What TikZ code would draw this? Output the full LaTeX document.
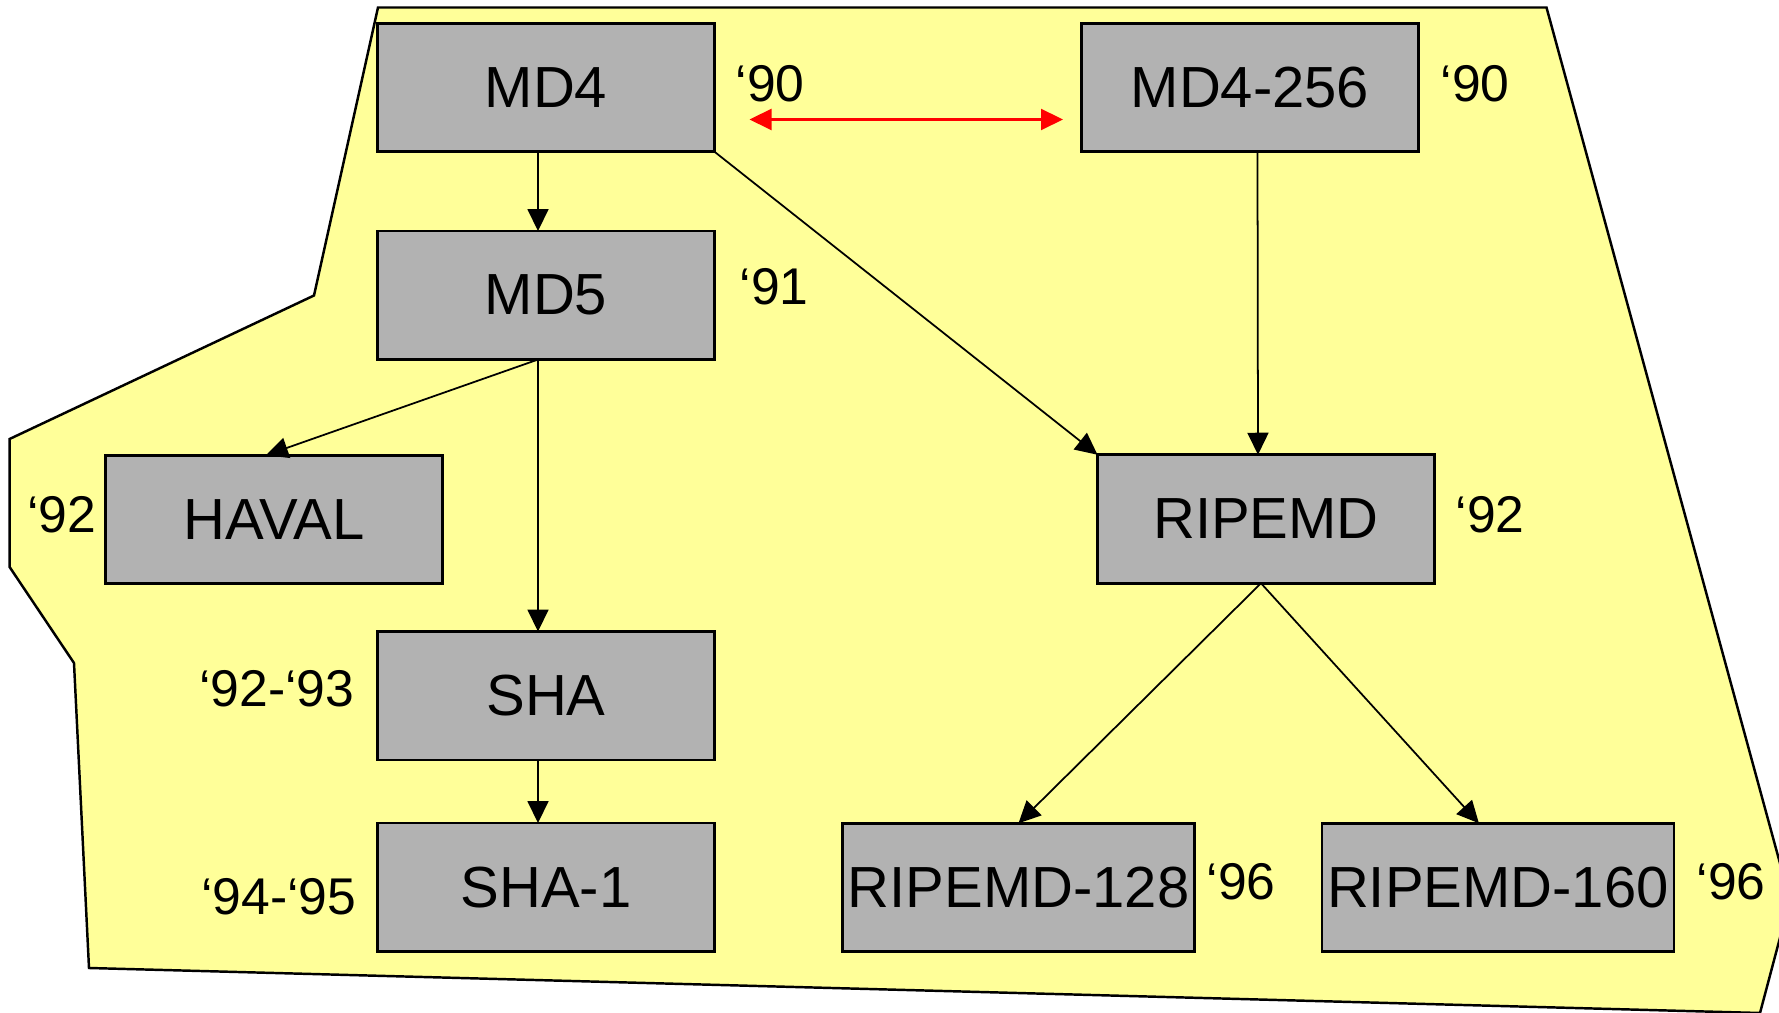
\documentclass[tikz,border=0pt]{standalone}
\usepackage{fontspec}
\setmainfont{Liberation Sans}
\usepackage{tikz}
\usetikzlibrary{arrows.meta,positioning}
\definecolor{cZone}{HTML}{FFFF99}
\definecolor{cBox}{HTML}{B2B2B2}
\definecolor{cRed}{HTML}{FF0000}
\tikzset{
  hbox/.style={draw, line width=0.75pt, fill=cBox, inner sep=0pt, outer sep=0pt,
               minimum width=#1, minimum height=12.85mm, font=\fontsize{16.5}{19}\selectfont},
  hbox/.default=33.7mm,
  harr/.style={-{Triangle[length=2.2mm,width=2.1mm]}, line width=0.5pt},
  hred/.style={{Triangle[length=2.2mm,width=2.1mm]}-{Triangle[length=2.2mm,width=2.1mm]},
               line width=0.6pt, draw=cRed},
  hyr/.style={inner sep=0pt, font=\fontsize{14.7}{17}\selectfont},
  hzone/.style={draw, line width=0.7pt, fill=cZone},
}

\begin{document}
\begin{tikzpicture}[x=0.1mm, y=-0.1mm, node distance=0mm]
\useasboundingbox (0,0) rectangle (1779,1013);
\clip (0,0) rectangle (1779,1013);
\draw[hzone] (378,7.5) -- (1546.5,7.5) -- (1790,900) -- (1760,1013) -- (89,968)
  -- (74,663) -- (9.6,567) -- (9.6,439) -- (314,295.5) -- cycle;

\node[hbox] (md4) at (546,87.5) {MD4};
\node[hbox, below=7.93mm of md4] (md5) {MD5};
\node[hbox, below=27.2mm of md5] (sha) {SHA};
\node[hbox, below=6.3mm of sha] (sha1) {SHA-1};
\node[hbox, right=36.7mm of md4] (md4x) {MD4-256};
\node[hbox] (haval) at (274,519.5) {HAVAL};
\node[hbox] (ripemd) at (1266,519) {RIPEMD};
\node[hbox=35.2mm] (rip128) at (1018.5,887.5) {RIPEMD-128};
\node[hbox=35.2mm, right=12.74mm of rip128] (rip160) {RIPEMD-160};

\node[hyr, anchor=base west] (ymd4) at (735,102) {‘90};
\node[hyr, anchor=base west] (ymd4x) at (1440,102) {‘90};
\node[hyr, anchor=base west] (ymd5) at (739,305) {‘91};
\node[hyr, anchor=base east] (yhaval) at (97,533) {‘92};
\node[hyr, anchor=base west] (yripemd) at (1455,533) {‘92};
\node[hyr, anchor=base east] (ysha) at (355,707) {‘92-‘93};
\node[hyr, anchor=base east] (ysha1) at (357,915) {‘94-‘95};
\node[hyr, anchor=base west] (yrip128) at (1206,900) {‘96};
\node[hyr, anchor=base west] (yrip160) at (1696,900) {‘96};

\draw[harr] ([xshift=-0.8mm]md4.south) -- ([xshift=-0.8mm]md5.north);
\draw[harr] (md4.south east) -- (ripemd.north west);
\draw[harr] ([xshift=0.75mm]md4x.south) -- ([xshift=-0.8mm]ripemd.north);
\draw[harr] ([xshift=-0.8mm]md5.south) -- ([xshift=-0.8mm]haval.north);
\draw[harr] ([xshift=-0.8mm]md5.south) -- ([xshift=-0.8mm]sha.north);
\draw[harr] ([xshift=-0.8mm]sha.south) -- ([xshift=-0.8mm]sha1.north);
\draw[harr] ([xshift=-0.5mm]ripemd.south) -- (rip128.north);
\draw[harr] ([xshift=-0.5mm]ripemd.south) -- ([xshift=-1.9mm]rip160.north);
\draw[hred] ([shift={(35,32)}]md4.east) -- ([shift={(-18.5,32)}]md4x.west);
\end{tikzpicture}
\end{document}
